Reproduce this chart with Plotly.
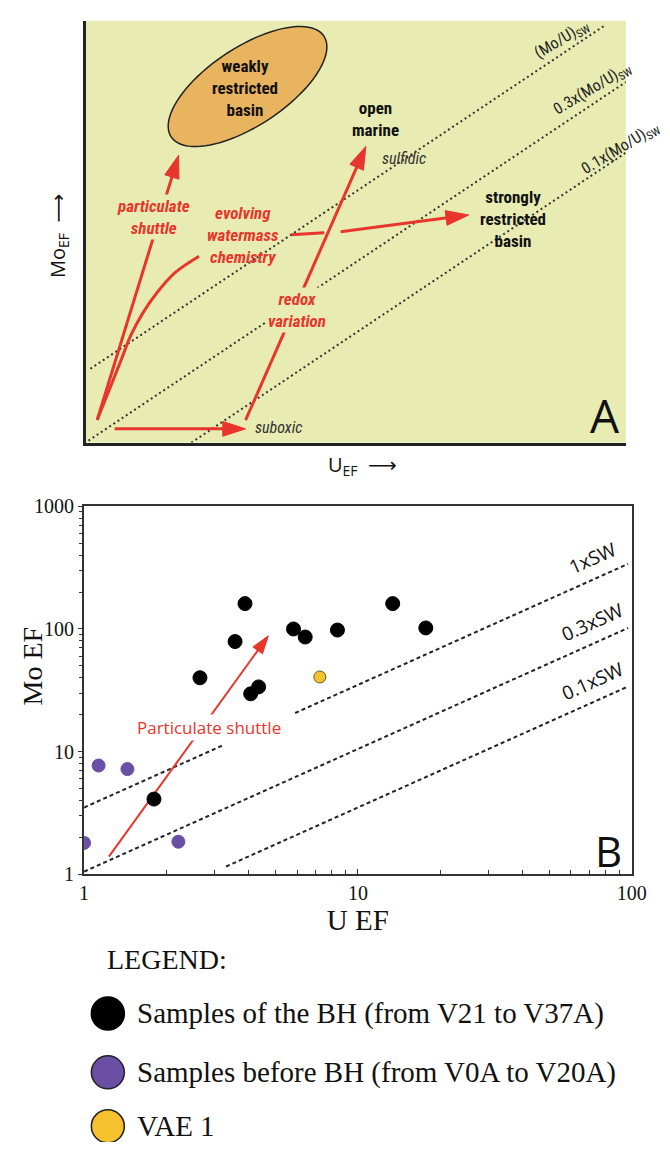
import numpy as np
import plotly.graph_objects as go

W, H = 670, 1153

# ---------------- Panel B data ----------------
bh_u = [3.87, 3.56, 2.65, 4.06, 4.34, 5.82, 6.42, 8.42, 13.4, 17.7, 1.80]
bh_mo = [161, 79, 40, 29.6, 33.7, 100, 86, 98, 161, 102, 4.1]
pre_u = [1.13, 1.44, 1.00, 2.21]
pre_mo = [7.7, 7.2, 1.80, 1.84]
vae_u = [7.26]
vae_mo = [40.6]

series_names = ["Samples of the BH (from V21 to V37A)",
                "Samples before BH (from V0A to V20A)",
                "VAE 1"]
series_colors = ["#000000", "#6a4fa5", "#f5c12c"]

sw_ratio = 3.5
sw_factors = [1.0, 0.3, 0.1]
sw_labels = ["1xSW", "0.3xSW", "0.1xSW"]
sw_u_segments = [[(1.0, 3.2), (5.9, 97)], [(1.0, 97)], [(3.3, 97)]]

shuttle_u = [1.232, 4.71]
shuttle_mo = [1.39, 88]

x_tickvals = [1, 10, 100]
x_ticktext = ["1", "10", "100"]
y_tickvals = [1, 10, 100, 1000]
y_ticktext = ["1", "10", "100", "1000"]

# ---------------- Panel A (schematic, arbitrary units) ----------------
a_ratio_labels = ["(Mo/U)<sub>SW</sub>", "0.3x(Mo/U)<sub>SW</sub>", "0.1x(Mo/U)<sub>SW</sub>"]
a_slope = 0.66
a_intercepts = [72, 0, -72]
a_x_start = [5, 3, 109]
a_x_end = [534, 557, 557]
a_curve_x = [12, 27, 37, 47, 59, 73, 92, 117]
a_curve_y = [23, 60, 85, 110, 132, 152, 173, 190]
# schematic arrows: (x0, y0, x1, y1)
a_arrows = {
    "particulate shuttle": (12, 23, 96, 293),
    "evolving watermass": (263, 215, 395, 232),
    "redox variation": (165, 23, 289, 302),
    "suboxic": (30, 14, 165, 14),
}

BG_A = "#e8ecb3"
RED = "#e8362c"
SANS = "Liberation Sans Narrow, Roboto Condensed, Roboto, sans-serif"
SERIF = "Liberation Serif, Times New Roman, serif"

fig = go.Figure()

# ---- Panel A traces ----
for c, x0, x1 in zip(a_intercepts, a_x_start, a_x_end):
    xs = np.array([x0, x1])
    fig.add_trace(go.Scatter(x=xs, y=a_slope * xs + c, mode="lines",
                             line=dict(color="#333333", width=2, dash="2px,3px"),
                             xaxis="x", yaxis="y", showlegend=False, hoverinfo="skip"))
fig.add_trace(go.Scatter(x=a_curve_x, y=a_curve_y, mode="lines", line=dict(color=RED, width=3, shape="spline"),
                         xaxis="x", yaxis="y", showlegend=False, hoverinfo="skip"))
fig.add_trace(go.Scatter(x=[212, 246], y=[212, 214], mode="lines", line=dict(color=RED, width=3),
                         xaxis="x", yaxis="y", showlegend=False, hoverinfo="skip"))
for key, (x0, y0, x1, y1) in a_arrows.items():
    fig.add_trace(go.Scatter(x=[x0, x1], y=[y0, y1], mode="lines+markers", name=key,
                             line=dict(color=RED, width=3),
                             marker=dict(symbol="arrow", size=[0, 24], angleref="previous", color=RED,
                                         opacity=1, line=dict(color=RED, width=1)),
                             xaxis="x", yaxis="y", showlegend=False, hoverinfo="skip"))

# ---- Panel B traces ----
for f, segs in zip(sw_factors, sw_u_segments):
    for (u0, u1) in segs:
        u = np.array([u0, u1])
        fig.add_trace(go.Scatter(x=u, y=sw_ratio * f * u, mode="lines",
                                 line=dict(color="#222222", width=2, dash="4px,3px"),
                                 xaxis="x2", yaxis="y2", showlegend=False, hoverinfo="skip"))

fig.add_trace(go.Scatter(x=shuttle_u, y=shuttle_mo, mode="lines+markers", name="Particulate shuttle",
                         line=dict(color=RED, width=2),
                         marker=dict(symbol="arrow", size=[0, 19], angleref="previous", color=RED,
                                     opacity=1, line=dict(color=RED, width=1)),
                         xaxis="x2", yaxis="y2", showlegend=False, hoverinfo="skip"))

for name, col, xs, ys, sz in zip(series_names, series_colors,
                                 [bh_u, pre_u, vae_u], [bh_mo, pre_mo, vae_mo], [14, 13, 12]):
    fig.add_trace(go.Scatter(x=xs, y=ys, mode="markers", name=name,
                             marker=dict(color=col, size=sz, opacity=1,
                                         line=dict(color="#6b5a1e" if col == "#f5c12c" else col, width=1)),
                             xaxis="x2", yaxis="y2", showlegend=False))

# ---- legend (manual, large swatches) ----
leg_y = [131, 71, 16]
for name, col, yy in zip(series_names, series_colors, leg_y):
    fig.add_trace(go.Scatter(x=[106], y=[yy], mode="markers", name=name,
                             marker=dict(color=col, size=33, opacity=1,
                                         line=dict(color="#222222" if col != "#000000" else col, width=1.5)),
                             xaxis="x3", yaxis="y3", showlegend=False, hoverinfo="skip"))

ann = []

def A(**kw):
    d = dict(xref="x", yref="y", showarrow=False, xanchor="center", yanchor="middle")
    d.update(kw)
    ann.append(d)

# Panel A texts
redfont = dict(family=SANS, size=17, color=RED)
A(x=70, y=230, text="<b><i>particulate<br>shuttle</i></b>", font=redfont, bgcolor=BG_A)
A(x=162, y=212, text="<b><i>evolving<br>watermass<br>chemistry</i></b>", font=redfont)
A(x=218, y=135, text="<b><i>redox<br>variation</i></b>", font=redfont, bgcolor=BG_A)
blk = dict(family=SANS, size=17, color="#111111")
A(x=164, y=361, text="<b>weakly<br>restricted<br>basin</b>", font=blk)
A(x=299, y=330, text="<b>open<br>marine</b>", font=blk)
A(x=441, y=228, text="<b>strongly<br>restricted<br>basin</b>", font=blk)
gry = dict(family=SANS, size=16, color="#333333")
A(x=304, y=290, text="<i>sulfidic</i>", font=gry, xanchor="left")
A(x=173, y=15, text="<i>suboxic</i>", font=gry, xanchor="left")
for lab, (px, py) in zip(a_ratio_labels, [(491, 411), (523, 361), (551, 300)]):
    A(x=px, y=py, text=lab, font=dict(family=SANS, size=16, color="#222222"), textangle=-31)
A(x=535, y=28, text="A", font=dict(family="Open Sans, sans-serif", size=46, color="#111111"))

# Panel A axis labels
ann.append(dict(xref="paper", yref="paper", x=55 / W, y=1 - 229 / H, xanchor="center", yanchor="middle",
                showarrow=False, textangle=-90,
                text="Mo<sub>EF</sub>  \u27f6", font=dict(family="Open Sans, DejaVu Sans", size=20, color="#111")))
ann.append(dict(xref="paper", yref="paper", x=368 / W, y=1 - 463 / H, xanchor="center", yanchor="middle",
                showarrow=False,
                text="U<sub>EF</sub>  \u27f6", font=dict(family="Open Sans, DejaVu Sans", size=20, color="#111")))

# Panel B annotations
ann.append(dict(xref="paper", yref="paper", x=28 / W, y=1 - 668 / H, xanchor="center", yanchor="middle",
                showarrow=False, textangle=-90, text="Mo EF",
                font=dict(family=SERIF, size=28, color="#111")))
ann.append(dict(xref="x2", yref="y2", x=np.log10(2.86), y=np.log10(15.6), showarrow=False,
                text="Particulate shuttle", bgcolor="white",
                font=dict(family="Open Sans, sans-serif", size=17, color=RED)))
for lab, f in zip(sw_labels, sw_factors):
    u = 72
    ann.append(dict(xref="x2", yref="y2", x=np.log10(u), y=np.log10(sw_ratio * f * u * 1.5),
                    showarrow=False, text=lab, textangle=-24,
                    font=dict(family="Open Sans, sans-serif", size=19, color="#111")))
ann.append(dict(xref="x2", yref="y2", x=np.log10(82), y=np.log10(1.55), showarrow=False, text="B",
                font=dict(family="Open Sans, sans-serif", size=42, color="#111")))

# Legend texts
ann.append(dict(xref="x3", yref="y3", x=103, y=186, xanchor="left", showarrow=False, text="LEGEND:",
                font=dict(family=SERIF, size=28, color="#111")))
for name, yy in zip(series_names, leg_y):
    ann.append(dict(xref="x3", yref="y3", x=134, y=yy, xanchor="left", showarrow=False, text=name,
                    font=dict(family=SERIF, size=29, color="#111")))

# ellipse (weakly restricted basin)
t = np.linspace(0, 2 * np.pi, 90)
ang = np.deg2rad(33)
ex = 167 + 94 * np.cos(t) * np.cos(ang) - 40 * np.sin(t) * np.sin(ang)
ey = 363 + 94 * np.cos(t) * np.sin(ang) + 40 * np.sin(t) * np.cos(ang)
path = "M " + " L ".join(f"{a:.2f},{b:.2f}" for a, b in zip(ex, ey)) + " Z"

shapes = [
    dict(type="rect", xref="x domain", yref="y domain", x0=0, x1=1, y0=0, y1=1,
         fillcolor=BG_A, line=dict(width=0), layer="below"),
    dict(type="path", xref="x", yref="y", path=path, fillcolor="#e9b460",
         line=dict(color="#222222", width=1.5), layer="above"),
]

minor_x = [v * d for d in (1, 10) for v in range(2, 10)]
minor_y = [v * d for d in (1, 10, 100) for v in range(2, 10)]

fig.update_layout(
    width=W, height=H, margin=dict(l=0, r=0, t=0, b=0),
    paper_bgcolor="white", plot_bgcolor="white",
    showlegend=False,
    shapes=shapes, annotations=ann,
    xaxis=dict(domain=[83 / W, 640 / W], range=[0, 557], anchor="y", showline=True, linecolor="#222",
               linewidth=2.5, showgrid=False, zeroline=False, showticklabels=False, ticks=""),
    yaxis=dict(domain=[1 - 440 / H, 1 - 10 / H], range=[0, 430], anchor="x", showline=True, linecolor="#222",
               linewidth=2.5, showgrid=False, zeroline=False, showticklabels=False, ticks=""),
    xaxis2=dict(type="log", domain=[81.5 / W, 646 / W], range=[0, 2], anchor="y2",
                showline=True, mirror=True, linecolor="#333", linewidth=2, showgrid=False, zeroline=False,
                tickvals=x_tickvals, ticktext=x_ticktext, ticks="inside", ticklen=5, tickcolor="#333",
                tickfont=dict(family=SERIF, size=20, color="#111"),
                minor=dict(tickvals=minor_x, ticks="inside", ticklen=4, tickcolor="#333", showgrid=False),
                title=dict(text="U EF", font=dict(family=SERIF, size=29, color="#111"), standoff=2)),
    yaxis2=dict(type="log", domain=[1 - 880 / H, 1 - 505 / H], range=[0, 3], anchor="x2",
                showline=True, mirror=True, linecolor="#333", linewidth=2, showgrid=False, zeroline=False,
                tickvals=y_tickvals, ticktext=y_ticktext, ticks="outside", ticklen=4, tickcolor="#333",
                tickfont=dict(family=SERIF, size=20, color="#111"),
                minor=dict(tickvals=minor_y, ticks="outside", ticklen=3, tickcolor="#333", showgrid=False)),
    xaxis3=dict(domain=[0, 1], range=[0, W], anchor="y3", visible=False),
    yaxis3=dict(domain=[0, 1 - 945 / H], range=[0, H - 945], anchor="x3", visible=False),
)

fig.write_html("out.html")
